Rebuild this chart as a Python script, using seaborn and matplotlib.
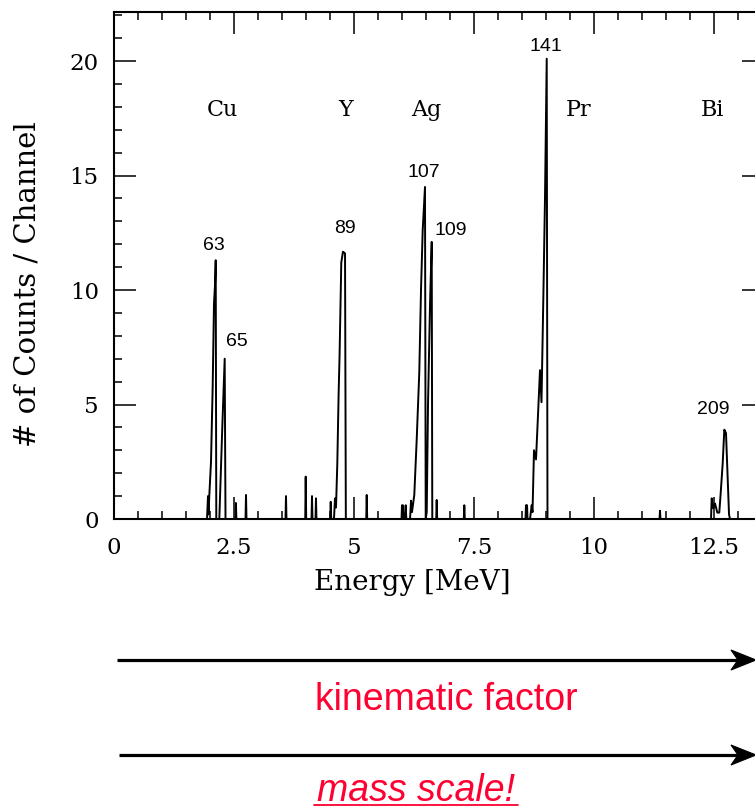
import matplotlib
matplotlib.use("Agg")
import matplotlib.pyplot as plt
import seaborn as sns
import pandas as pd
from matplotlib.ticker import MultipleLocator, FixedLocator
from matplotlib.patches import Polygon
from matplotlib.lines import Line2D

# ---------------- data ----------------
energy_mev = [
    0.000, 1.938, 1.958, 1.969, 1.985, 2.021, 2.056, 2.083, 2.104, 2.119, 2.131,
    2.194, 2.256, 2.306, 2.323,
    2.530, 2.540, 2.550,
    2.740, 2.750, 2.760,
    3.573, 3.583, 3.593,
    3.984, 3.994, 4.004,
    4.115, 4.125, 4.135, 4.198, 4.208, 4.218,
    4.505, 4.515, 4.525,
    4.583, 4.604, 4.625, 4.652, 4.680, 4.700, 4.735, 4.770, 4.813, 4.830,
    5.255, 5.265, 5.275,
    5.990, 6.000, 6.020, 6.035, 6.065, 6.077, 6.090,
    6.167, 6.188, 6.208, 6.256, 6.306, 6.360, 6.396, 6.431, 6.479, 6.494,
    6.515, 6.542, 6.583, 6.619, 6.631,
    6.713, 6.723, 6.733,
    7.288, 7.298, 7.308,
    8.573, 8.583, 8.595, 8.605, 8.615,
    8.667, 8.702, 8.719, 8.750, 8.792, 8.875, 8.906, 8.944, 8.979, 9.015, 9.031,
    11.365, 11.375, 11.385,
    12.438, 12.452, 12.485, 12.521, 12.569, 12.610, 12.635, 12.681, 12.715, 12.750, 12.813, 12.833,
    13.550,
]
counts = [
    0, 0, 1.0, 0.2, 1.0, 2.5, 5.8, 9.4, 10.2, 11.3, 0,
    0, 4.0, 7.0, 0,
    0, 0.7, 0,
    0, 1.05, 0,
    0, 1.0, 0,
    0, 1.85, 0,
    0, 1.0, 0, 0, 0.9, 0,
    0, 0.75, 0,
    0, 0.9, 0.5, 2.4, 5.5, 7.2, 11.2, 11.67, 11.6, 0,
    0, 1.05, 0,
    0, 0.6, 0.6, 0, 0, 0.6, 0,
    0, 0.8, 0.3, 1.05, 3.45, 6.4, 10.0, 12.6, 14.5, 0,
    0.3, 5.0, 9.3, 12.1, 0,
    0, 0.83, 0,
    0, 0.6, 0,
    0, 0.6, 0, 0.6, 0,
    0, 0.6, 0.3, 3.0, 2.6, 6.5, 5.1, 9.6, 14.0, 20.1, 0,
    0, 0.36, 0,
    0, 0.9, 0.47, 0.68, 0.28, 0.28, 1.0, 2.43, 3.9, 3.75, 0.2, 0,
    0,
]
assert len(energy_mev) == len(counts)

element_names = ["Cu", "Y", "Ag", "Pr", "Bi"]
element_energy = [2.25, 4.83, 6.50, 9.67, 12.46]
element_level = 17.86

isotope_labels = ["63", "65", "89", "107", "109", "141", "209"]
isotope_energy = [2.08, 2.56, 4.81, 6.46, 7.02, 9.00, 12.48]
isotope_level = [11.96, 7.73, 12.70, 15.15, 12.62, 20.65, 4.76]

x_ticks = [0, 2.5, 5, 7.5, 10, 12.5]
x_tick_labels = ["0", "2.5", "5", "7.5", "10", "12.5"]
y_ticks = [0, 5, 10, 15, 20]

df = pd.DataFrame({"Energy": energy_mev, "Counts": counts})

# ---------------- figure ----------------
sns.set_theme(style="ticks")
plt.rcParams["font.family"] = ["DejaVu Serif"]

W, H = 755, 809
fig = plt.figure(figsize=(W / 100, H / 100), dpi=100)
fig.patch.set_facecolor("white")

ax_left, ax_bottom = 114, 519
ax_w, ax_h = 650.4, 507
ax = fig.add_axes([ax_left / W, (H - ax_bottom) / H, ax_w / W, ax_h / H])
ax.set_facecolor("white")

sns.lineplot(data=df, x="Energy", y="Counts", ax=ax, estimator=None, sort=False,
             color="black", lw=1.4)

ax.set_xlim(0, 13.55)
ax.set_ylim(0, 22.14)

ax.xaxis.set_major_locator(FixedLocator(x_ticks))
ax.set_xticklabels(x_tick_labels)
ax.xaxis.set_minor_locator(MultipleLocator(0.5))
ax.yaxis.set_major_locator(FixedLocator(y_ticks))
ax.yaxis.set_minor_locator(MultipleLocator(1))

for s in ax.spines.values():
    s.set_visible(True)
    s.set_linewidth(1.5)
    s.set_color("black")

ax.tick_params(which="both", direction="in", top=True, right=True,
               color="black", width=1.1)
ax.tick_params(which="major", length=16)
ax.tick_params(which="minor", length=5.5)
ax.tick_params(axis="x", which="major", labelsize=16.5, pad=13, labelcolor="black")
ax.tick_params(axis="y", which="major", labelsize=16.5, pad=11, labelcolor="black")

ax.set_xlabel("Energy [MeV]", fontsize=20, color="black", va="center")
ax.set_ylabel("# of Counts / Channel", fontsize=21, color="black", va="center")
ax.xaxis.set_label_coords((412 - ax_left) / ax_w, (ax_bottom - 583) / ax_h)
ax.yaxis.set_label_coords((28 - ax_left) / ax_w, (ax_bottom - 284) / ax_h)

for name, ex in zip(element_names, element_energy):
    ax.text(ex, element_level, name, ha="center", va="center", fontsize=16,
            color="black", family="DejaVu Serif")

for lab, ex, ey in zip(isotope_labels, isotope_energy, isotope_level):
    ax.text(ex, ey, lab, ha="center", va="center", fontsize=14,
            color="black", family=["Liberation Sans", "DejaVu Sans"])

# ---------------- arrows and captions below ----------------
def figpt(x, y):
    return (x / W, (H - y) / H)

red = "#ff0033"
for x0, yy in [(117, 660), (119, 755)]:
    fig.add_artist(Line2D([x0 / W, 740 / W], [(H - yy) / H, (H - yy) / H],
                          transform=fig.transFigure, color="black", lw=2.3,
                          solid_capstyle="butt"))
    head = Polygon([figpt(756, yy), figpt(731, yy - 10), figpt(738, yy),
                    figpt(731, yy + 10)], closed=True, transform=fig.transFigure,
                   facecolor="black", edgecolor="black", lw=0.8)
    fig.add_artist(head)

fig.text(446 / W, (H - 710) / H, "kinematic factor", ha="center", va="baseline",
         fontsize=27, color=red, family=["Liberation Sans", "DejaVu Sans"])
fig.text(416 / W, (H - 801) / H, "mass scale!", ha="center", va="baseline",
         fontsize=27, color=red, style="italic", family=["Liberation Sans", "DejaVu Sans"])
fig.add_artist(Line2D([314 / W, 518 / W], [(H - 805) / H, (H - 805) / H],
                      transform=fig.transFigure, color=red, lw=1.3))

fig.savefig("out.png", dpi=100, facecolor="white")
